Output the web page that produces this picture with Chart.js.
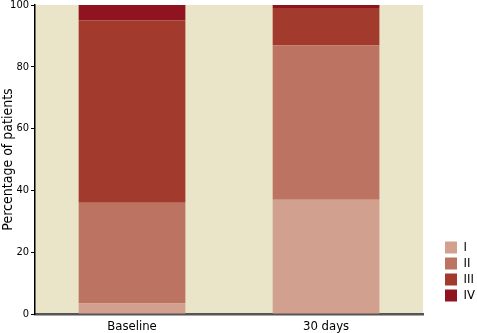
<!DOCTYPE html>
<html><head><meta charset="utf-8">
<script src="https://cdn.jsdelivr.net/npm/chart.js@4/dist/chart.umd.min.js"></script>
<style>html,body{margin:0;padding:0;background:#fff}#wrap{width:477px;height:333px}</style>
</head><body><div id="wrap"><canvas id="c" width="477" height="333"></canvas></div>
<script>
const categories = ["Baseline", "30 days"];
const stageI = [3.5, 37];
const stageII = [32.5, 50];
const stageIII = [59, 12];
const stageIV = [5, 1];
const seriesNames = ["I", "II", "III", "IV"];
const yTicks = [0, 20, 40, 60, 80, 100];

const colors = ["#D1A08F", "#BD7361", "#A23A2D", "#901320"];
const FONT = "'Liberation Sans Narrow', 'DejaVu Sans Condensed', sans-serif";

const bgPlugin = {
  id: 'bg',
  beforeDraw(chart) {
    const {ctx, chartArea: a} = chart;
    ctx.save();
    ctx.fillStyle = '#EAE5C9';
    ctx.fillRect(a.left, a.top, a.right - a.left, a.bottom - a.top);
    ctx.restore();
    const lg = chart.legend;
    if (lg) {
      const w = lg.right - lg.left;
      lg.left = 442; lg.right = 442 + w;
      const h = lg.bottom - lg.top;
      lg.bottom = 305; lg.top = 305 - h;
    }
  }
};

const series = [stageI, stageII, stageIII, stageIV];
new Chart(document.getElementById('c'), {
  type: 'bar',
  data: {
    labels: categories,
    datasets: series.map((d, i) => ({
      label: seriesNames[i],
      data: d,
      backgroundColor: colors[i],
      borderWidth: 0,
      categoryPercentage: 0.55,
      barPercentage: 1.0
    }))
  },
  options: {
    responsive: false,
    animation: false,
    layout: { padding: { top: 5, right: 11, bottom: 0, left: 0 } },
    plugins: {
      legend: {
        position: 'right',
        align: 'end',
        labels: {
          boxWidth: 12, boxHeight: 12, padding: 3,
          color: '#000',
          font: { family: FONT, size: 13 }
        }
      },
      tooltip: { enabled: false }
    },
    scales: {
      x: {
        stacked: true,
        afterFit(axis) { axis.height = 19; axis.paddingLeft = 0; axis.paddingRight = 0; },
        grid: { display: false, drawTicks: false },
        border: { display: true, color: '#555', width: 2.5 },
        ticks: { color: '#000', font: { family: FONT, size: 13 }, padding: 5 }
      },
      y: {
        stacked: true,
        min: 0, max: 100,
        afterFit(axis) { axis.width = 35; axis.paddingTop = 0; axis.paddingBottom = 0; },
        afterBuildTicks(axis) { axis.ticks = yTicks.map(v => ({ value: v })); },
        grid: { display: true, drawOnChartArea: false, drawTicks: true, tickLength: 4, color: '#000' },
        border: { display: true, color: '#000', width: 1.5 },
        ticks: { color: '#000', font: { family: FONT, size: 11 }, padding: 2 },
        title: { display: true, text: 'Percentage of patients', color: '#000', font: { family: FONT, size: 14 }, padding: 0 }
      }
    }
  },
  plugins: [bgPlugin]
});
</script>
</body></html>
